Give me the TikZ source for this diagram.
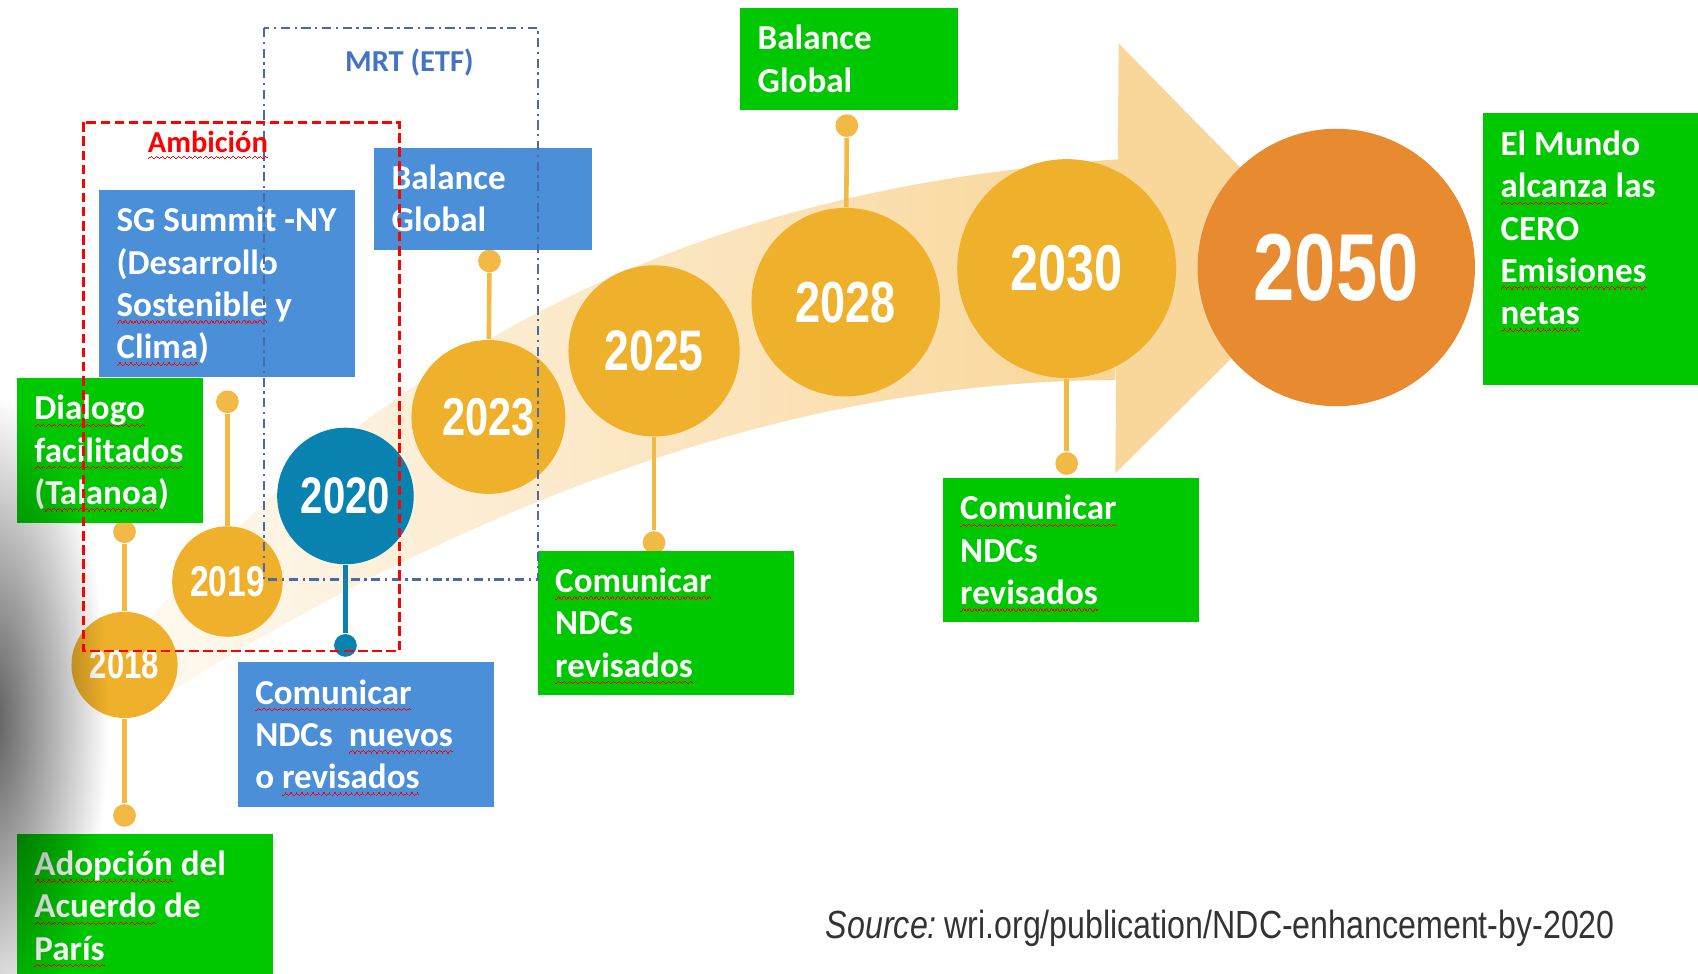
\documentclass[tikz,border=0pt]{standalone}
\usepackage{fontspec}
\setmainfont{Carlito}
\newfontfamily\yearfont[FakeStretch=0.78]{Liberation Sans}
\newfontfamily\narrowfont[FakeStretch=0.82]{Liberation Sans}
\usepackage{xcolor}
\usetikzlibrary{positioning,fadings}

\definecolor{ndcgreen}{HTML}{00C800}
\definecolor{ndcblue}{HTML}{4A8FD8}
\definecolor{yearorange}{HTML}{EFB12B}
\definecolor{goalorange}{HTML}{E88A30}
\definecolor{tealblue}{HTML}{0A82B0}
\definecolor{bandcolor}{HTML}{F9D699}
\definecolor{mrtblue}{HTML}{4A69A8}
\definecolor{mrttext}{HTML}{4472C4}
\definecolor{stemcolor}{HTML}{F2BA45}

\tikzfading[name=shadowblob, inner color=transparent!35, outer color=transparent!100]

\newsavebox\sqbox
\newcommand\wave{\hbox{\rule[-1.9pt]{0.35pt}{0.3pt}\rule[-1.6pt]{0.35pt}{0.3pt}\rule[-1.3pt]{0.35pt}{0.3pt}\rule[-1.6pt]{0.35pt}{0.3pt}}}
\newcommand\sq[1]{\sbox\sqbox{#1}\leavevmode\rlap{\textcolor{red}{\hbox to \wd\sqbox{\xleaders\wave\hfil}}}\usebox\sqbox}

\begin{document}
\begin{tikzpicture}[x=0.01cm, y=-0.01cm]
  \tikzset{
    year/.style 2 args={
      circle,
      fill=yearorange,
      text=white,
      inner sep=0pt,
      minimum size=#1,
      font=\yearfont\bfseries\fontsize{#2}{#2}\selectfont
    },
    knob/.style={
      circle,
      fill=stemcolor,
      minimum size=0.21cm,
      inner sep=0pt
    },
    stem/.style={
      draw=stemcolor,
      line width=1.2pt
    },
    txtbox/.style={
      rectangle,
      anchor=north west,
      inner xsep=0.16cm,
      inner ysep=0pt,
      align=flush left,
      text=white,
      font=\fontsize{9.2}{11.1}\selectfont\bfseries,
      execute at begin node={\rule{0pt}{9pt}},
      execute at end node={\rule[-2.8pt]{0pt}{2.8pt}}
    },
    gbox/.style={txtbox, fill=ndcgreen},
    bbox/.style={txtbox, fill=ndcblue}
  }

  \useasboundingbox (0,0) rectangle (1568,899);

  \shade[left color=bandcolor!15, right color=bandcolor] (130,580) .. controls (450,220) and (800,165) .. (1033,147)
    -- (1030,351) .. controls (800,351) and (500,420) .. (140,650) -- cycle;
  \fill[bandcolor] (1033,40) -- (1229,240) -- (1030,437) -- cycle;

  \node[year={0.98cm}{10.5}] (y18) at (115,614) {2018};
  \node[year={1.02cm}{11.3}] (y19) at (210,537) {2019};
  \node[year={1.26cm}{13.5}, fill=tealblue] (y20) at (319,458) {2020};
  \node[year={1.42cm}{14}] (y23) at (451,385) {2023};
  \node[year={1.58cm}{15}] (y25) at (604,324) {2025};
  \node[year={1.74cm}{15.2}] (y28) at (781,279) {2028};
  \node[year={2.02cm}{17}] (y30) at (985,248) {2030};
  \node[year={2.56cm}{25}, fill=goalorange] (y50) at (1234,247) {2050};

  \node[knob] (d18a) at (115,491) {};
  \node[knob] (d18b) at (115,753) {};
  \node[knob] (d19) at (210,371) {};
  \node[knob, fill=tealblue] (d20) at (319,596) {};
  \node[knob] (d23) at (452,241) {};
  \node[knob] (d25) at (604,501) {};
  \node[knob] (d28) at (782,116) {};
  \node[knob] (d30) at (985,428) {};

  \draw[stem] (y18) -- (d18a);
  \draw[stem] (y18) -- (d18b);
  \draw[stem] (y19) -- (d19);
  \draw[stem, draw=tealblue] (y20) -- (d20);
  \draw[stem] (y23) -- (d23);
  \draw[stem] (y25) -- (d25);
  \draw[stem] (y28) -- (d28);
  \draw[stem] (y30) -- (d30);

  \node[gbox, text width=1.40cm, minimum height=1.34cm] (talanoa) at (15,348) {\sq{Dialogo}\\\sq{facilitados}\\(\sq{Talanoa})};
  \node[gbox, text width=2.04cm, minimum height=1.34cm] (paris) at (15,769) {\sq{Adopción} del\\\sq{Acuerdo} de\\\sq{París}};
  \node[bbox, text width=2.04cm, minimum height=1.72cm] (summit) at (91,175) {\mbox{SG Summit -NY}\\(Desarrollo\\\sq{Sostenible} y\\\sq{Clima})};
  \node[bbox, text width=1.69cm, minimum height=0.94cm] (stock23) at (345,136) {Balance\\Global};
  \node[bbox, text width=2.04cm, minimum height=1.33cm] (ndcnew) at (219,611) {\sq{Comunicar}\\NDCs~~\sq{nuevos}\\o \sq{revisados}};
  \node[gbox, text width=2.04cm, minimum height=1.33cm] (ndc25) at (496,508) {\sq{Comunicar}\\NDCs\\\sq{revisados}};
  \node[gbox, text width=1.69cm, minimum height=0.94cm] (stock28) at (683,7) {Balance\\Global};
  \node[gbox, text width=2.04cm, minimum height=1.33cm] (ndc30) at (870,441) {\sq{Comunicar}\\NDCs\\\sq{revisados}};
  \node[gbox, text width=1.69cm, minimum height=2.51cm] (netzero) at (1369,104) {El Mundo\\\sq{alcanza} las\\CERO\\\sq{Emisiones}\\\sq{netas}\\\mbox{}};

  \fill[black, path fading=shadowblob] (-10,665) ellipse [x radius=110, y radius=300];

  \draw[mrtblue, line width=0.6pt, dash pattern=on 2.4pt off 1.2pt on 0.6pt off 1.2pt] (244,26) rectangle (497,535);
  \draw[red, line width=0.6pt, dash pattern=on 2.5pt off 1.2pt] (77,113) rectangle (369,601);
  \node[font=\fontsize{8}{9.6}\selectfont\bfseries, text=mrttext] (mrtlabel) at (378,58) {MRT (ETF)};
  \node[font=\fontsize{8}{9.6}\selectfont\bfseries, text=red] (amblabel) at (192,134) {\sq{Ambición}};

  \node[font=\narrowfont\fontsize{10.3}{12}\selectfont, text=black!80] (source) at (1127,857) {\textit{Source:}\hspace{2pt}wri.org/publication/NDC-enhancement-by-2020};
\end{tikzpicture}
\end{document}
